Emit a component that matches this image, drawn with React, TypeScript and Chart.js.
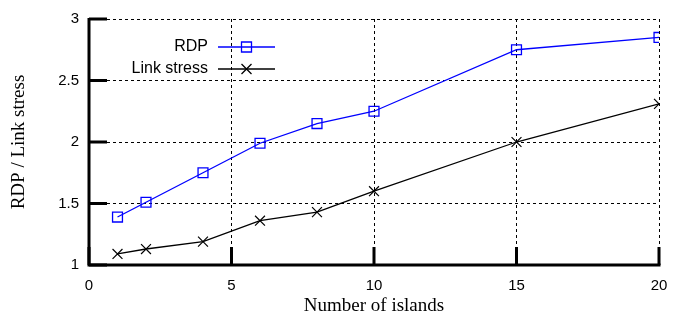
import React, { useEffect, useRef } from "react";
import { Chart, registerables } from "chart.js";

Chart.register(...registerables);

const islands = [1, 2, 4, 6, 8, 10, 15, 20];
const rdp = [1.39, 1.51, 1.75, 1.99, 2.15, 2.25, 2.75, 2.85];
const linkStress = [1.09, 1.13, 1.19, 1.36, 1.43, 1.6, 2.0, 2.31];
const xTicks = [0, 5, 10, 15, 20];
const yTicks = [1, 1.5, 2, 2.5, 3];
const seriesNames = ["RDP", "Link stress"];
const xTitle = "Number of islands";
const yTitle = "RDP / Link stress";

const SANS = "'Liberation Sans', Arial, sans-serif";
const SERIF = "'Liberation Serif', 'Times New Roman', serif";

const axesPlugin = {
  id: "gnuplotAxes",
  afterDatasetsDraw(chart: any) {
    const { ctx, chartArea, scales } = chart;
    const { left, right, top, bottom } = chartArea;
    ctx.save();
    ctx.strokeStyle = "#000";
    ctx.lineWidth = 3;
    ctx.lineCap = "butt";
    ctx.beginPath();
    ctx.moveTo(left, top - 1);
    ctx.lineTo(left, bottom);
    ctx.lineTo(right + 1.5, bottom);
    ctx.stroke();
    ctx.beginPath();
    xTicks.forEach((v) => {
      const px = scales.x.getPixelForValue(v);
      ctx.moveTo(px, bottom);
      ctx.lineTo(px, bottom - 18);
    });
    yTicks.forEach((v) => {
      const py = scales.y.getPixelForValue(v);
      ctx.moveTo(left, py);
      ctx.lineTo(left + 18, py);
    });
    ctx.stroke();

    // legend
    const rows = [
      { name: seriesNames[0], color: "#0000ff", marker: "rect", y: 47 },
      { name: seriesNames[1], color: "#000000", marker: "cross", y: 69 },
    ];
    ctx.font = "16px " + SANS;
    ctx.textAlign = "right";
    ctx.textBaseline = "middle";
    rows.forEach((r) => {
      ctx.fillStyle = "#000";
      ctx.fillText(r.name, 208, r.y);
      ctx.strokeStyle = r.color;
      ctx.lineWidth = 1.3;
      ctx.beginPath();
      ctx.moveTo(218, r.y);
      ctx.lineTo(275, r.y);
      ctx.stroke();
      const cx = 246.5;
      ctx.beginPath();
      if (r.marker === "rect") {
        ctx.rect(cx - 5, r.y - 5, 10, 10);
      } else {
        ctx.moveTo(cx - 5, r.y - 5);
        ctx.lineTo(cx + 5, r.y + 5);
        ctx.moveTo(cx + 5, r.y - 5);
        ctx.lineTo(cx - 5, r.y + 5);
      }
      ctx.stroke();
    });
    ctx.restore();
  },
};

export default function App() {
  const ref = useRef<HTMLCanvasElement>(null);
  useEffect(() => {
    document.body.style.margin = "0";
    const chart = new Chart(ref.current!, {
      type: "line",
      data: {
        datasets: [
          {
            label: seriesNames[0],
            data: islands.map((x, i) => ({ x, y: rdp[i] })),
            borderColor: "#0000ff",
            backgroundColor: "transparent",
            borderWidth: 1.3,
            pointStyle: "rect",
            pointRadius: 7,
            pointBorderWidth: 1.3,
            pointBorderColor: "#0000ff",
            pointBackgroundColor: "transparent",
            tension: 0,
          },
          {
            label: seriesNames[1],
            data: islands.map((x, i) => ({ x, y: linkStress[i] })),
            borderColor: "#000000",
            backgroundColor: "transparent",
            borderWidth: 1.3,
            pointStyle: "crossRot",
            pointRadius: 7,
            pointBorderWidth: 1.2,
            pointBorderColor: "#000000",
            tension: 0,
          },
        ],
      },
      options: {
        responsive: false,
        animation: false,
        events: [],
        layout: { padding: { left: 0, top: 18, right: 31, bottom: 0 } },
        plugins: { legend: { display: false }, tooltip: { enabled: false } },
        scales: {
          x: {
            type: "linear",
            min: 0,
            max: 20,
            afterBuildTicks: (s: any) => {
              s.ticks = xTicks.map((v) => ({ value: v }));
            },
            afterFit: (s: any) => {
              s.height = 50;
            },
            ticks: {
              color: "#000",
              font: { family: SANS, size: 15 },
              padding: 12,
              maxRotation: 0,
              callback: (v: any) => String(v),
            },
            grid: { color: "#000", lineWidth: 1, drawTicks: false },
            border: { display: false, dash: [3, 3] },
            title: {
              display: true,
              text: xTitle,
              color: "#000",
              font: { family: SERIF, size: 19, lineHeight: 1 },
              padding: { top: 0, bottom: -1 },
            },
          },
          y: {
            type: "linear",
            min: 1,
            max: 3,
            afterBuildTicks: (s: any) => {
              s.ticks = yTicks.map((v) => ({ value: v }));
            },
            afterFit: (s: any) => {
              s.width = 89;
            },
            ticks: {
              color: "#000",
              font: { family: SANS, size: 15 },
              padding: 10,
              callback: (v: any) => String(v),
            },
            grid: { color: "#000", lineWidth: 1, drawTicks: false },
            border: { display: false, dash: [3, 3] },
            title: {
              display: true,
              text: yTitle,
              color: "#000",
              font: { family: SERIF, size: 19, lineHeight: 1 },
              padding: { top: 10, bottom: 0 },
            },
          },
        },
      },
      plugins: [axesPlugin],
    });
    return () => chart.destroy();
  }, []);
  return <canvas ref={ref} width={690} height={315} style={{ display: "block" }} />;
}
